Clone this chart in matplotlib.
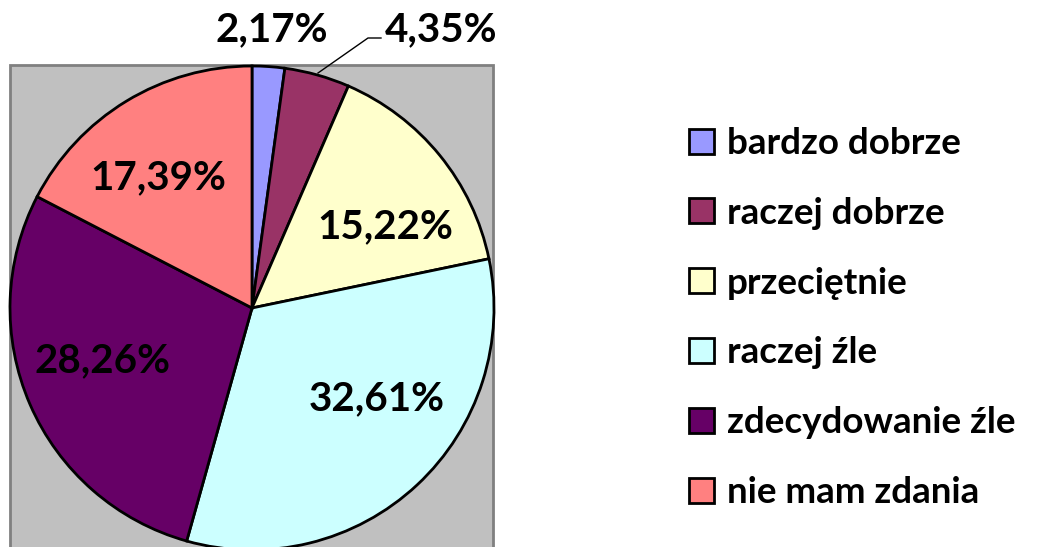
import matplotlib
matplotlib.use("Agg")
import matplotlib.pyplot as plt
from matplotlib.patches import Rectangle

# Data
categories = ["bardzo dobrze", "raczej dobrze", "przeciętnie",
              "raczej źle", "zdecydowanie źle", "nie mam zdania"]
values = [2.17, 4.35, 15.22, 32.61, 28.26, 17.39]
colors = ["#9999FF", "#993366", "#FFFFCC", "#CCFFFF", "#660066", "#FF8080"]

# label anchors in pixel space (x, y from top)
label_pos = [(272, 30), (441, 30), (385, 227), (377, 399), (102, 361), (158, 178)]

W, H = 1040, 547
plt.rcParams["font.family"] = ["Lato", "DejaVu Sans"]

fig = plt.figure(figsize=(W / 100, H / 100), dpi=100)
ax = fig.add_axes([0, 0, 1, 1])

# gray plot area
ax.add_patch(Rectangle((10, -20), 483, H - 65 + 20, facecolor="#C0C0C0",
                       edgecolor="#808080", linewidth=2, zorder=0))

wedges, _ = ax.pie(values, colors=colors, startangle=90, counterclock=False,
                   center=(252, H - 308), radius=242,
                   wedgeprops=dict(edgecolor="black", linewidth=2))

for v, (x, y) in zip(values, label_pos):
    txt = f"{v:.2f}%".replace(".", ",")
    ax.text(x, H - y, txt, ha="center", va="center", fontsize=29,
            fontweight="bold", zorder=5)

# leader line for the small slice
ax.plot([318, 368, 381], [H - 73, H - 38, H - 38], color="black", lw=1, zorder=4)

ax.set_xlim(0, W)
ax.set_ylim(0, H)
ax.set_aspect("equal")
ax.axis("off")

fig.legend(wedges, categories, loc="center left",
           bbox_to_anchor=(689 / W, 1 - 318 / H), frameon=False,
           prop={"weight": "bold", "size": 26.5},
           handlelength=0.67, handleheight=0.67, handletextpad=0.35,
           labelspacing=1.0, borderpad=0, borderaxespad=0)

fig.savefig("out.png", dpi=100)
